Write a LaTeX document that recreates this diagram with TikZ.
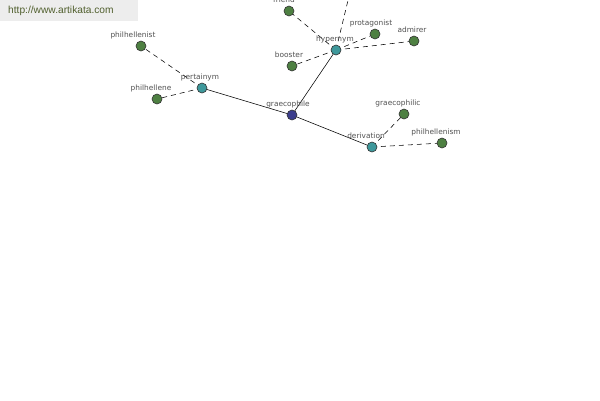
\documentclass[tikz,border=0pt]{standalone}
\usepackage{fontspec}
\setmainfont{Liberation Sans}
\newfontfamily\lblfont{DejaVu Sans}
\definecolor{leafgreen}{RGB}{78,128,66}
\definecolor{relteal}{RGB}{62,152,155}
\definecolor{coreblue}{RGB}{60,62,140}
\definecolor{wmtext}{RGB}{80,95,45}
\begin{document}
\begin{tikzpicture}[x=1pt,y=-1pt,
  lbl/.style={font=\lblfont\fontsize{7.4}{8}\selectfont, text=black!68, inner sep=0pt},
  dot/.style={circle, minimum size=10pt, inner sep=0pt, draw=black!80, line width=0.6pt},
  leaf/.style={dot, fill=leafgreen},
  rel/.style={dot, fill=relteal},
  core/.style={dot, fill=coreblue},
  solidedge/.style={draw=black, line width=0.55pt},
  dashedge/.style={draw=black, line width=0.55pt, dash pattern=on 5pt off 4pt}]
\useasboundingbox (0,0) rectangle (600,400);
\clip (0,0) rectangle (600,400);
\fill[white] (0,0) rectangle (600,400);
% watermark
\fill[black!7] (0,0) rectangle (138,21);
\node[anchor=west, font=\fontsize{10.2}{11}\selectfont, text=wmtext, inner sep=0pt] (wm) at (8,11) {http://www.artikata.com};
% nodes
\coordinate (offtop) at (351,-12);
\coordinate (pgraecophile) at (292,115);
\coordinate (ppertainym) at (202,88);
\coordinate (phypernym) at (336,50);
\coordinate (pderivation) at (372,147);
\coordinate (pphilhellenist) at (141,46);
\coordinate (pphilhellene) at (157,99);
\coordinate (pfriend) at (289,11);
\coordinate (pbooster) at (292,66);
\coordinate (pprotagonist) at (375,34);
\coordinate (padmirer) at (414,41);
\coordinate (pgraecophilic) at (404,114);
\coordinate (pphilhellenism) at (442,143);
% edges
\draw[solidedge] (pgraecophile) -- (ppertainym);
\draw[solidedge] (pgraecophile) -- (phypernym);
\draw[solidedge] (pgraecophile) -- (pderivation);
\draw[dashedge] (ppertainym) -- (pphilhellenist);
\draw[dashedge] (ppertainym) -- (pphilhellene);
\draw[dashedge] (phypernym) -- (pfriend);
\draw[dashedge] (phypernym) -- (pbooster);
\draw[dashedge] (phypernym) -- (pprotagonist);
\draw[dashedge] (phypernym) -- (padmirer);
\draw[dashedge] (phypernym) -- (offtop);
\draw[dashedge] (pderivation) -- (pgraecophilic);
\draw[dashedge] (pderivation) -- (pphilhellenism);
% node circles
\node[core] (graecophile) at (pgraecophile) {};
\node[rel] (pertainym) at (ppertainym) {};
\node[rel] (hypernym) at (phypernym) {};
\node[rel] (derivation) at (pderivation) {};
\node[leaf] (philhellenist) at (pphilhellenist) {};
\node[leaf] (philhellene) at (pphilhellene) {};
\node[leaf] (friend) at (pfriend) {};
\node[leaf] (booster) at (pbooster) {};
\node[leaf] (protagonist) at (pprotagonist) {};
\node[leaf] (admirer) at (padmirer) {};
\node[leaf] (graecophilic) at (pgraecophilic) {};
\node[leaf] (philhellenism) at (pphilhellenism) {};
% labels
\node[lbl] (l1) at (288,104) {graecophile};
\node[lbl] (l2) at (200,77) {pertainym};
\node[lbl] (l3) at (335,39) {hypernym};
\node[lbl] (l4) at (366,136) {derivation};
\node[lbl] (l5) at (133,35) {philhellenist};
\node[lbl] (l6) at (151,88) {philhellene};
\node[lbl] (l7) at (284,0) {friend};
\node[lbl] (l8) at (289,55) {booster};
\node[lbl] (l9) at (371,23) {protagonist};
\node[lbl] (l10) at (412,30) {admirer};
\node[lbl] (l11) at (398,103) {graecophilic};
\node[lbl] (l12) at (436,132) {philhellenism};
\end{tikzpicture}
\end{document}
